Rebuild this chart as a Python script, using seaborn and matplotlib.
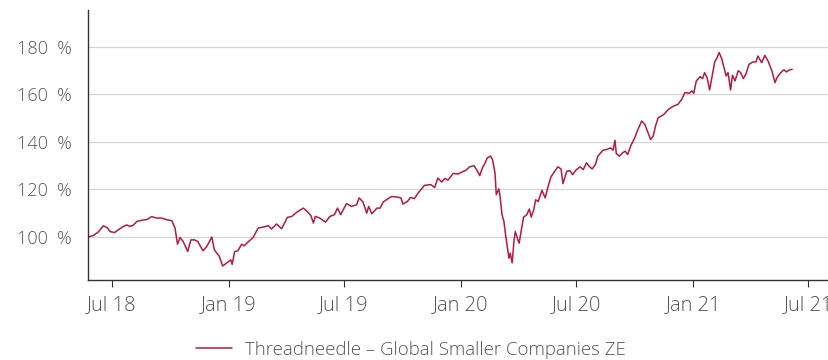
import matplotlib
matplotlib.use("Agg")
import matplotlib.pyplot as plt
import matplotlib.dates as mdates
import matplotlib.ticker as mticker
import pandas as pd
import seaborn as sns

# Fund performance, rebased to 100 at the start of the period
dates = [
    "2018-05-25", "2018-06-01", "2018-06-09", "2018-06-17", "2018-06-23", "2018-06-28",
    "2018-07-05", "2018-07-11", "2018-07-19", "2018-07-24", "2018-07-29", "2018-08-03",
    "2018-08-09", "2018-08-17", "2018-08-25", "2018-09-01", "2018-09-09", "2018-09-17",
    "2018-09-25", "2018-10-03", "2018-10-08", "2018-10-12", "2018-10-16", "2018-10-21",
    "2018-10-28", "2018-11-02", "2018-11-08", "2018-11-13", "2018-11-21", "2018-11-27",
    "2018-12-05", "2018-12-09", "2018-12-13", "2018-12-17", "2018-12-22", "2018-12-29",
    "2019-01-04", "2019-01-06", "2019-01-10", "2019-01-15", "2019-01-21", "2019-01-25",
    "2019-01-31", "2019-02-08", "2019-02-16", "2019-02-24", "2019-03-04", "2019-03-09",
    "2019-03-17", "2019-03-25", "2019-04-03", "2019-04-10", "2019-04-18", "2019-04-28",
    "2019-05-03", "2019-05-10", "2019-05-14", "2019-05-17", "2019-05-24", "2019-06-02",
    "2019-06-09", "2019-06-16", "2019-06-21", "2019-06-26", "2019-07-05", "2019-07-13",
    "2019-07-21", "2019-07-25", "2019-07-31", "2019-08-06", "2019-08-09", "2019-08-14",
    "2019-08-22", "2019-08-27", "2019-09-01", "2019-09-09", "2019-09-14", "2019-09-22",
    "2019-09-29", "2019-10-02", "2019-10-09", "2019-10-14", "2019-10-20", "2019-10-26",
    "2019-11-05", "2019-11-15", "2019-11-21", "2019-11-26", "2019-12-02", "2019-12-07",
    "2019-12-12", "2019-12-20", "2019-12-28", "2020-01-02", "2020-01-09", "2020-01-15",
    "2020-01-22", "2020-01-26", "2020-01-31", "2020-02-04", "2020-02-08", "2020-02-12",
    "2020-02-17", "2020-02-20", "2020-02-24", "2020-02-26", "2020-03-01", "2020-03-03",
    "2020-03-06", "2020-03-09", "2020-03-12", "2020-03-15", "2020-03-17", "2020-03-19",
    "2020-03-22", "2020-03-25", "2020-03-27", "2020-03-31", "2020-04-02", "2020-04-05",
    "2020-04-09", "2020-04-14", "2020-04-18", "2020-04-21", "2020-04-25", "2020-04-28",
    "2020-05-02", "2020-05-08", "2020-05-13", "2020-05-17", "2020-05-22", "2020-05-28",
    "2020-06-02", "2020-06-07", "2020-06-10", "2020-06-16", "2020-06-21", "2020-06-25",
    "2020-07-01", "2020-07-07", "2020-07-12", "2020-07-17", "2020-07-22", "2020-07-26",
    "2020-07-31", "2020-08-04", "2020-08-12", "2020-08-18", "2020-08-24", "2020-08-28",
    "2020-08-31", "2020-09-02", "2020-09-07", "2020-09-12", "2020-09-16", "2020-09-20",
    "2020-09-25", "2020-10-01", "2020-10-06", "2020-10-12", "2020-10-17", "2020-10-22",
    "2020-10-26", "2020-10-30", "2020-11-03", "2020-11-07", "2020-11-12", "2020-11-16",
    "2020-11-23", "2020-12-01", "2020-12-08", "2020-12-14", "2020-12-19", "2020-12-26",
    "2020-12-30", "2021-01-02", "2021-01-06", "2021-01-12", "2021-01-16", "2021-01-19",
    "2021-01-23", "2021-01-27", "2021-02-01", "2021-02-04", "2021-02-08", "2021-02-11",
    "2021-02-15", "2021-02-18", "2021-02-22", "2021-02-25", "2021-03-01", "2021-03-04",
    "2021-03-08", "2021-03-13", "2021-03-17", "2021-03-21", "2021-03-25", "2021-03-30",
    "2021-04-05", "2021-04-10", "2021-04-13", "2021-04-19", "2021-04-24", "2021-04-29",
    "2021-05-05", "2021-05-10", "2021-05-13", "2021-05-19", "2021-05-24", "2021-05-28",
    "2021-06-02", "2021-06-06",
]

values = [
    100.0, 100.5, 102.0, 104.6, 103.9, 102.2,
    101.8, 103.0, 104.4, 105.0, 104.4, 104.8,
    106.5, 107.0, 107.3, 108.5, 107.9, 107.9,
    107.2, 106.8, 103.7, 96.9, 99.7, 98.0,
    93.8, 98.7, 98.7, 98.0, 94.1, 95.9,
    99.9, 94.5, 93.1, 91.7, 87.7, 89.1,
    90.3, 88.4, 93.8, 94.1, 96.9, 96.2,
    97.8, 99.7, 103.7, 104.1, 104.7, 103.3,
    105.4, 103.4, 108.2, 108.6, 110.4, 112.1,
    111.0, 109.0, 105.8, 108.6, 107.9, 106.2,
    108.6, 109.3, 112.1, 109.3, 114.0, 112.8,
    113.5, 116.4, 114.7, 110.0, 112.8, 109.7,
    112.1, 112.1, 114.7, 116.1, 117.0, 116.8,
    116.4, 113.8, 114.9, 116.6, 116.1, 118.5,
    121.7, 122.0, 120.8, 124.8, 123.1, 124.6,
    123.9, 126.7, 126.5, 127.2, 128.0, 129.5,
    130.0, 128.3, 125.8, 129.0, 130.9, 133.3,
    134.0, 132.6, 126.9, 117.8, 120.2, 117.0,
    109.3, 106.5, 100.1, 94.5, 91.0, 93.1,
    89.0, 98.7, 102.2, 98.7, 97.3, 102.2,
    108.3, 109.3, 111.7, 108.3, 111.4, 115.6,
    114.9, 119.6, 116.4, 120.6, 125.2, 127.6,
    129.5, 128.6, 122.4, 127.6, 127.9, 126.2,
    128.3, 129.5, 128.3, 131.2, 129.5, 128.6,
    130.4, 134.0, 136.5, 136.8, 137.5, 136.5,
    140.7, 135.1, 134.0, 135.4, 136.1, 134.7,
    138.5, 141.7, 145.2, 148.8, 147.4, 143.8,
    141.0, 142.4, 146.9, 150.2, 150.9, 151.6,
    153.7, 155.1, 155.8, 157.9, 160.8, 160.5,
    161.5, 160.5, 165.7, 167.5, 166.7, 169.2,
    167.1, 161.9, 169.2, 173.7, 175.6, 177.7,
    175.1, 172.0, 167.8, 169.2, 161.9, 168.1,
    165.7, 170.0, 169.2, 166.7, 168.5, 172.7,
    173.7, 173.7, 176.2, 173.4, 176.5, 174.1,
    170.0, 165.0, 167.1, 169.2, 170.4, 169.5,
    170.4, 170.6,
]

fund_name = "Threadneedle – Global Smaller Companies ZE"
y_ticks = [100, 120, 140, 160, 180]

df = pd.DataFrame({"date": pd.to_datetime(dates), "value": values})

sns.set_theme(style="white")
plt.rcParams["font.family"] = ["Open Sans", "DejaVu Sans"]
plt.rcParams["font.weight"] = "light"

text_color = "#555555"
line_color = "#b8193f"

fig = plt.figure(figsize=(8.29, 3.60), dpi=100)
ax = fig.add_axes([88 / 829, 80 / 360, 1 - 88 / 829, 270 / 360])

sns.lineplot(data=df, x="date", y="value", ax=ax, color=line_color,
             linewidth=1.1, label=fund_name, legend=False)

ax.set_ylim(81.8, 195.6)
ax.set_xlim(pd.Timestamp("2018-05-24"), pd.Timestamp("2021-08-03"))
ax.set_yticks(y_ticks)
ax.yaxis.set_major_formatter(mticker.FuncFormatter(lambda v, _: f"{v:.0f}  %"))
ax.xaxis.set_major_locator(mdates.MonthLocator(bymonth=[1, 7]))
ax.xaxis.set_major_formatter(mdates.DateFormatter("%b %y"))

ax.grid(axis="y", color="#d4d4d4", linewidth=0.9)
ax.grid(axis="x", visible=False)
ax.set_xlabel("")
ax.set_ylabel("")

for side in ("top", "right"):
    ax.spines[side].set_visible(False)
for side in ("left", "bottom"):
    ax.spines[side].set_color("#333333")
    ax.spines[side].set_linewidth(1.0)

ax.tick_params(axis="y", length=0, pad=12, labelsize=13, labelcolor=text_color)
ax.tick_params(axis="x", length=5, width=0.8, color="#333333", direction="out",
               pad=6, labelsize=14.5, labelcolor=text_color, bottom=True)

handles, labels = ax.get_legend_handles_labels()
leg = fig.legend(handles, labels, loc="center", bbox_to_anchor=(411 / 829, 1 - 350 / 360),
                 frameon=False, fontsize=13.4, handlelength=1.9, handletextpad=0.7)
for t in leg.get_texts():
    t.set_color(text_color)

fig.savefig("out.png", dpi=100)
